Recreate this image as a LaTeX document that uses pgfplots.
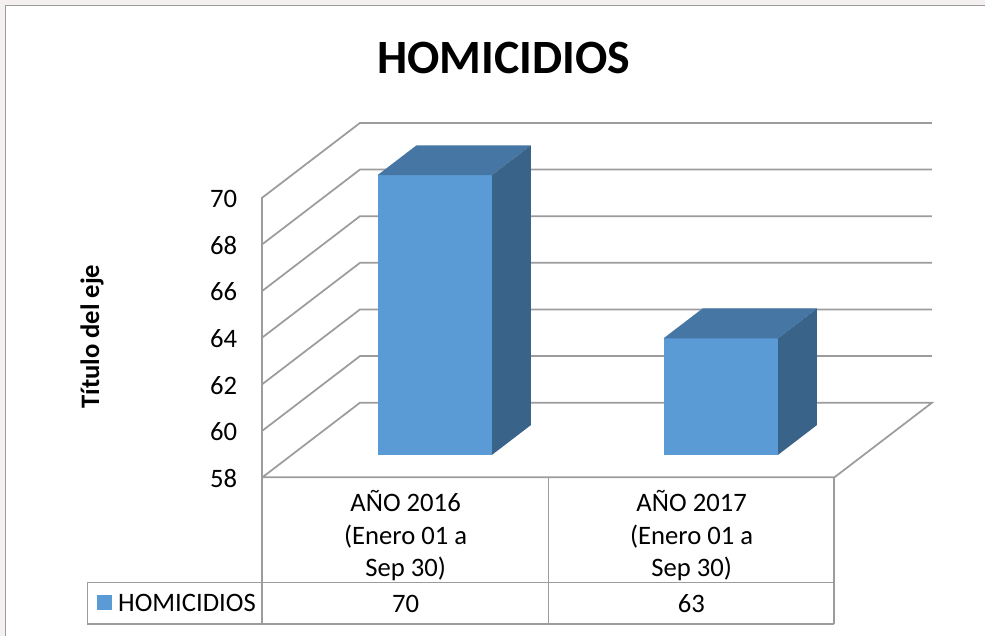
\documentclass[border=0pt]{standalone}
\usepackage{fontspec}
\setmainfont{Carlito}
\usepackage{pgfplots}
\pgfplotsset{compat=1.18}

\definecolor{barfront}{HTML}{5B9BD5}
\definecolor{bartop}{HTML}{4676A3}
\definecolor{barside}{HTML}{3A6389}
\definecolor{gridgray}{HTML}{9C9C9C}
\definecolor{pagebg}{HTML}{F4F0EF}

\begin{document}
\begin{tikzpicture}
\begin{scope}[x=0.75pt,y=-0.75pt]
  \fill[pagebg] (0,0) rectangle (986,637);
  \fill[white] (5.5,5.5) rectangle (986,637);
  \draw[gridgray,line width=1.3pt] (986,5.5) -- (5.5,5.5) -- (5.5,637);
  \path[use as bounding box] (0,0) rectangle (986,637);
\end{scope}
\begin{axis}[
    at={(197.1pt,-358.2pt)},
    anchor=south west,
    x={(214.7pt,0pt)},
    y={(73.1pt,55.9pt)},
    z={(0pt,17.5pt)},
    xmin=-0.5, xmax=1.5,
    ymin=0, ymax=1,
    zmin=58, zmax=70,
    clip=false,
    axis line style={draw=none},
    tick style={draw=none},
    xtick={0,1},
    xticklabels={{AÑO 2016\\(Enero 01 a\\Sep 30)},{AÑO 2017\\(Enero 01 a\\Sep 30)}},
    x tick label style={align=center,font=\fontsize{20}{24.6}\selectfont,anchor=north,yshift=-6.2pt},
    ytick=\empty,
    ztick={58,60,62,64,66,68,70},
    z tick label style={font=\fontsize{20}{24}\selectfont,xshift=-15.5pt,yshift=3.6pt},
    /pgf/number format/assume math mode=true,
]
% side walls and floor
\addplot3[gridgray,line width=1.3pt] coordinates {(-0.5,0,70) (-0.5,1,70) (1.5,1,70)};
\addplot3[gridgray,line width=1.3pt] coordinates {(-0.5,0,68) (-0.5,1,68) (1.5,1,68)};
\addplot3[gridgray,line width=1.3pt] coordinates {(-0.5,0,66) (-0.5,1,66) (1.5,1,66)};
\addplot3[gridgray,line width=1.3pt] coordinates {(-0.5,0,64) (-0.5,1,64) (1.5,1,64)};
\addplot3[gridgray,line width=1.3pt] coordinates {(-0.5,0,62) (-0.5,1,62) (1.5,1,62)};
\addplot3[gridgray,line width=1.3pt] coordinates {(-0.5,0,60) (-0.5,1,60) (1.5,1,60)};
\addplot3[gridgray,line width=1.3pt] coordinates {(-0.5,0,58) (-0.5,1,58) (1.5,1,58) (1.5,0,58) (-0.5,0,58)};
% bar 2016
\addplot3[fill=barfront,draw=none] coordinates {(-0.2,0.3,58) (0.2,0.3,58) (0.2,0.3,70) (-0.2,0.3,70)};
\addplot3[fill=bartop,draw=none] coordinates {(-0.2,0.3,70) (0.2,0.3,70) (0.2,0.7,70) (-0.2,0.7,70)};
\addplot3[fill=barside,draw=none] coordinates {(0.2,0.3,58) (0.2,0.7,58) (0.2,0.7,70) (0.2,0.3,70)};
% bar 2017
\addplot3[fill=barfront,draw=none] coordinates {(0.8,0.3,58) (1.2,0.3,58) (1.2,0.3,63) (0.8,0.3,63)};
\addplot3[fill=bartop,draw=none] coordinates {(0.8,0.3,63) (1.2,0.3,63) (1.2,0.7,63) (0.8,0.7,63)};
\addplot3[fill=barside,draw=none] coordinates {(1.2,0.3,58) (1.2,0.7,58) (1.2,0.7,63) (1.2,0.3,63)};
\end{axis}
\begin{scope}[x=0.75pt,y=-0.75pt]
  % left edge and data table under the chart
  \draw[gridgray,line width=1.3pt]
    (262.5,197) -- (262.5,624.5)
    (549,477.5) -- (549,624.5)
    (835,477.5) -- (835,624.5)
    (87.5,583) -- (835,583)
    (87.5,624.5) -- (835,624.5)
    (87.5,583) -- (87.5,624.5);
  \fill[barfront] (97,596) rectangle (112.3,611);
  \node[anchor=west,inner sep=0pt,font=\fontsize{20}{24}\selectfont] at (118,603.5) {HOMICIDIOS};
  \node[font=\fontsize{20}{24}\selectfont] at (406,604) {70};
  \node[font=\fontsize{20}{24}\selectfont] at (692,604) {63};
  \node[font=\fontsize{35.9}{40}\bfseries\selectfont] at (504,58) {HOMICIDIOS};
  \node[rotate=90,font=\fontsize{20}{24}\bfseries\selectfont] at (92,337) {Título del eje};
\end{scope}
\end{tikzpicture}
\end{document}
